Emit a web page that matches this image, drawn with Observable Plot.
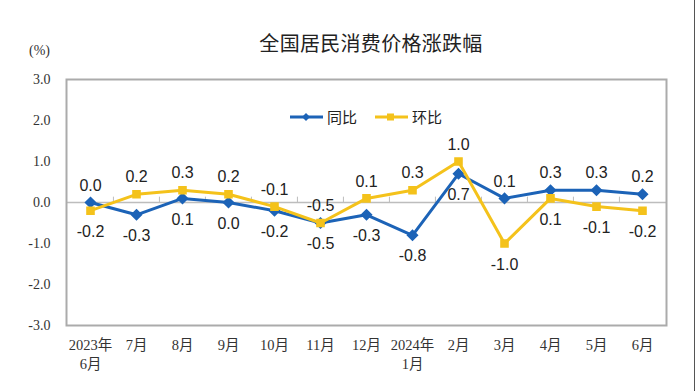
<!DOCTYPE html>
<html>
<head>
<meta charset="utf-8">
<script src="https://cdn.jsdelivr.net/npm/d3@7"></script>
<script src="https://cdn.jsdelivr.net/npm/@observablehq/plot@0.6"></script>
<style>
  html, body { margin: 0; padding: 0; background: #fff; }
  #wrap { position: relative; width: 696px; height: 391px; overflow: hidden; font-family: "Noto Sans CJK SC", "Liberation Sans", sans-serif; }
  #chart { position: absolute; left: 0; top: 0; }
  .title { position: absolute; left: 0; width: 742px; top: 28px; text-align: center; font-size: 20px; color: #222; letter-spacing: 0.3px; }
  .unit { position: absolute; left: 29px; top: 43px; font-size: 14px; color: #333; font-family: "Liberation Serif", serif; }
  .legend { position: absolute; top: 106px; left: 290px; font-size: 15px; color: #222; display: flex; align-items: center; }
  .legend .item { display: flex; align-items: center; margin-right: 18px; }
  .legend svg { margin-right: 4px; }
  .rborder { position: absolute; left: 694px; top: 0; width: 1px; height: 391px; background: #555; }
</style>
</head>
<body>
<div id="wrap">
  <div id="chart"></div>
  <div class="title">全国居民消费价格涨跌幅</div>
  <div class="unit">(%)</div>
  <div class="legend" id="legend"></div>
  <div class="rborder"></div>
</div>
<script>
const months = ["2023-06","2023-07","2023-08","2023-09","2023-10","2023-11","2023-12","2024-01","2024-02","2024-03","2024-04","2024-05","2024-06"];
const monthLabels = ["2023年\n6月","7月","8月","9月","10月","11月","12月","2024年\n1月","2月","3月","4月","5月","6月"];
const yoy = [0.0, -0.3, 0.1, 0.0, -0.2, -0.5, -0.3, -0.8, 0.7, 0.1, 0.3, 0.3, 0.2];   // 同比
const mom = [-0.2, 0.2, 0.3, 0.2, -0.1, -0.5, 0.1, 0.3, 1.0, -1.0, 0.1, -0.1, -0.2]; // 环比
const yTicks = [-3, -2, -1, 0, 1, 2, 3];
const seriesNames = ["同比", "环比"];
const colors = ["#1c63b7", "#f4c21b"];

const rows = [];
months.forEach((m, i) => {
  rows.push({month: m, series: "同比", value: yoy[i], above: yoy[i] > mom[i]});
  rows.push({month: m, series: "环比", value: mom[i], above: mom[i] >= yoy[i]});
});
const yoyRows = rows.filter(d => d.series === "同比");
const momRows = rows.filter(d => d.series === "环比");

const W = 696, H = 391, ML = 66, MR = 30, MT = 79, MB = 66;
const band = (W - ML - MR) / months.length;
const labelFont = "'Liberation Sans', Arial, sans-serif";
const axisFont = "'Liberation Serif', 'Noto Sans CJK SC', serif";

const plot = Plot.plot({
  width: W, height: H,
  marginLeft: ML, marginRight: MR, marginTop: MT, marginBottom: MB,
  x: {type: "band", domain: months, padding: 0},
  y: {domain: [-3, 3]},
  style: {background: "#fff"},
  marks: [
    Plot.ruleY([0], {stroke: "#bdbdbd", strokeWidth: 1.5}),
    Plot.ruleX(months.slice(1), {x: d => d, dx: -band / 2, y1: 0, y2: 0.13, stroke: "#bdbdbd"}),
    Plot.frame({stroke: "#ababab", strokeWidth: 2}),
    Plot.axisY({ticks: yTicks, tickFormat: d => d.toFixed(1), tickSize: 0, tickPadding: 16, fontSize: 14, fontFamily: axisFont, fill: "#333", label: null}),
    Plot.axisX({tickSize: 0, tickPadding: 11, tickFormat: (d, i) => monthLabels[months.indexOf(d)], fontSize: 14.5, fontFamily: axisFont, fill: "#333", lineHeight: 1.3, label: null, textAnchor: "middle"}),
    Plot.line(yoyRows, {x: "month", y: "value", stroke: colors[0], strokeWidth: 3}),
    Plot.dot(yoyRows, {x: "month", y: "value", symbol: "diamond2", r: 4.5, fill: colors[0], stroke: colors[0]}),
    Plot.line(momRows, {x: "month", y: "value", stroke: colors[1], strokeWidth: 3}),
    Plot.dot(momRows, {x: "month", y: "value", symbol: "square", r: 4, fill: colors[1], stroke: colors[1]}),
    Plot.text(rows.filter(d => d.above), {x: "month", y: "value", text: d => d.value.toFixed(1), dy: -17, fontSize: 16, fontFamily: labelFont, fill: "#222"}),
    Plot.text(rows.filter(d => !d.above), {x: "month", y: "value", text: d => d.value.toFixed(1), dy: 21, fontSize: 16, fontFamily: labelFont, fill: "#222"})
  ]
});
document.getElementById("chart").appendChild(plot);

const legend = document.getElementById("legend");
seriesNames.forEach((name, i) => {
  const item = document.createElement("div");
  item.className = "item";
  const marker = i === 0
    ? `<polygon points="16,3 20,7 16,11 12,7" fill="${colors[i]}"/>`
    : `<rect x="12" y="3.5" width="7" height="7" fill="${colors[i]}"/>`;
  item.innerHTML = `<svg width="33" height="14"><line x1="0" y1="7" x2="33" y2="7" stroke="${colors[i]}" stroke-width="3"/>${marker}</svg><span>${name}</span>`;
  legend.appendChild(item);
});
</script>
</body>
</html>
